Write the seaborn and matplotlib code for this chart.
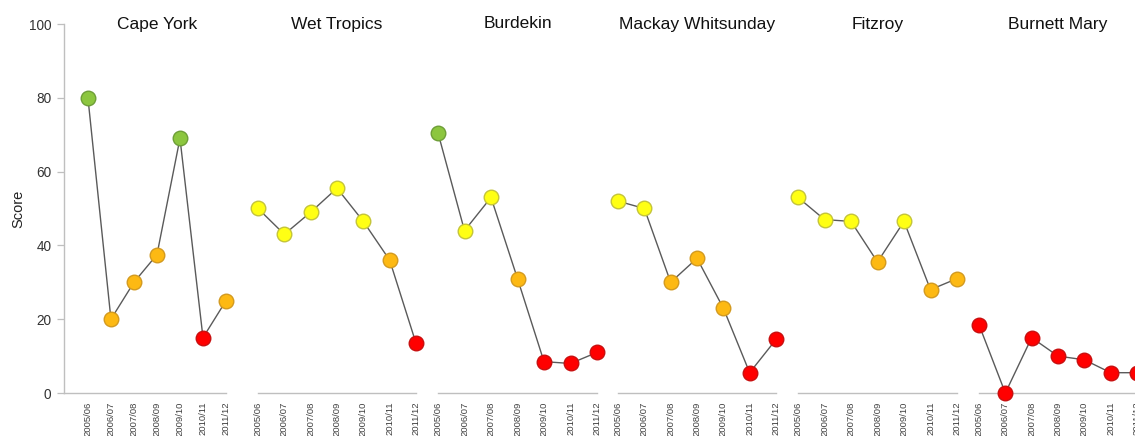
import matplotlib
matplotlib.use("Agg")
import matplotlib.pyplot as plt
import seaborn as sns
import pandas as pd

sns.set_style("white")
plt.rcParams['font.family'] = ['Liberation Sans', 'DejaVu Sans']

years = ["2005/06", "2006/07", "2007/08", "2008/09", "2009/10", "2010/11", "2011/12"]
regions = ["Cape York", "Wet Tropics", "Burdekin", "Mackay Whitsunday", "Fitzroy", "Burnett Mary"]

cape_york = [80, 20, 30, 37.5, 69, 15, 25]
wet_tropics = [50, 43, 49, 55.5, 46.5, 36, 13.5]
burdekin = [70.5, 44, 53, 31, 8.5, 8, 11]
mackay_whitsunday = [52, 50, 30, 36.5, 23, 5.5, 14.5]
fitzroy = [53, 47, 46.5, 35.5, 46.5, 28, 31]
burnett_mary = [18.5, 0, 15, 10, 9, 5.5, 5.5]

cape_york_grade = ["good", "poor", "poor", "poor", "good", "very poor", "poor"]
wet_tropics_grade = ["moderate", "moderate", "moderate", "moderate", "moderate", "poor", "very poor"]
burdekin_grade = ["good", "moderate", "moderate", "poor", "very poor", "very poor", "very poor"]
mackay_whitsunday_grade = ["moderate", "moderate", "poor", "poor", "poor", "very poor", "very poor"]
fitzroy_grade = ["moderate", "moderate", "moderate", "poor", "moderate", "poor", "poor"]
burnett_mary_grade = ["very poor"] * 7

series = [cape_york, wet_tropics, burdekin, mackay_whitsunday, fitzroy, burnett_mary]
grades = [cape_york_grade, wet_tropics_grade, burdekin_grade, mackay_whitsunday_grade,
          fitzroy_grade, burnett_mary_grade]

palette = {"good": "#8CC63F", "moderate": "#FFFF14", "poor": "#FDB913", "very poor": "#FF0000"}
edges = {"good": "#6E9E38", "moderate": "#C4C43A", "poor": "#D39A20", "very poor": "#C81010"}

W, H = 1135, 436
fig = plt.figure(figsize=(W / 100, H / 100), dpi=100)

y0, y1 = 393, 24
bottom = (H - y0) / H
height = (y0 - y1) / H

panel_px = [(64, 226), (258, 416), (438, 597), (618, 776), (798, 957), (979, 1137)]
spine_c = "#BFBFBF"

for i, (reg, vals, grs) in enumerate(zip(regions, series, grades)):
    l, r = panel_px[i]
    ax = fig.add_axes([l / W, bottom, (r - l) / W, height])
    df = pd.DataFrame({"x": range(len(years)), "score": vals, "grade": grs})
    sns.lineplot(data=df, x="x", y="score", ax=ax, color="#5A5A5A", linewidth=1.0,
                 clip_on=False, zorder=2)
    for g, sub in df.groupby("grade"):
        sns.scatterplot(data=sub, x="x", y="score", ax=ax, color=palette[g],
                        edgecolor=edges[g], linewidth=1.0, s=110, clip_on=False,
                        zorder=3, legend=False)
    ax.set_ylim(0, 100)
    if i == 0:
        ax.set_xlim(-1.04, 6)
    else:
        ax.set_xlim(0, 6)
    ax.set_xticks(range(len(years)))
    ax.set_xticklabels(years, rotation=90, fontsize=6.8, color="#404040")
    ax.tick_params(axis="x", length=4, width=0.9, color=spine_c, pad=2, direction="out")
    ax.set_xlabel("")
    for s in ["top", "right"]:
        ax.spines[s].set_visible(False)
    ax.spines["bottom"].set_color(spine_c)
    ax.spines["bottom"].set_linewidth(1.0)
    if i == 0:
        ax.spines["left"].set_color(spine_c)
        ax.spines["left"].set_linewidth(1.0)
        ax.set_yticks([0, 20, 40, 60, 80, 100])
        ax.tick_params(axis="y", length=5, width=0.9, color=spine_c, labelsize=9.8,
                       labelcolor="#333333", pad=4, direction="out", left=True)
        ax.set_ylabel("Score", fontsize=10.5, color="#222222")
        ax.yaxis.set_label_coords((25 - l) / (r - l), 0.5)
    else:
        ax.spines["left"].set_visible(False)
        ax.set_yticks([])
        ax.set_ylabel("")
    ax.text(3, 100, reg, ha="center", va="center", fontsize=12.5, color="#111111")
    ax.patch.set_alpha(0)

fig.savefig("out.png", dpi=100)
